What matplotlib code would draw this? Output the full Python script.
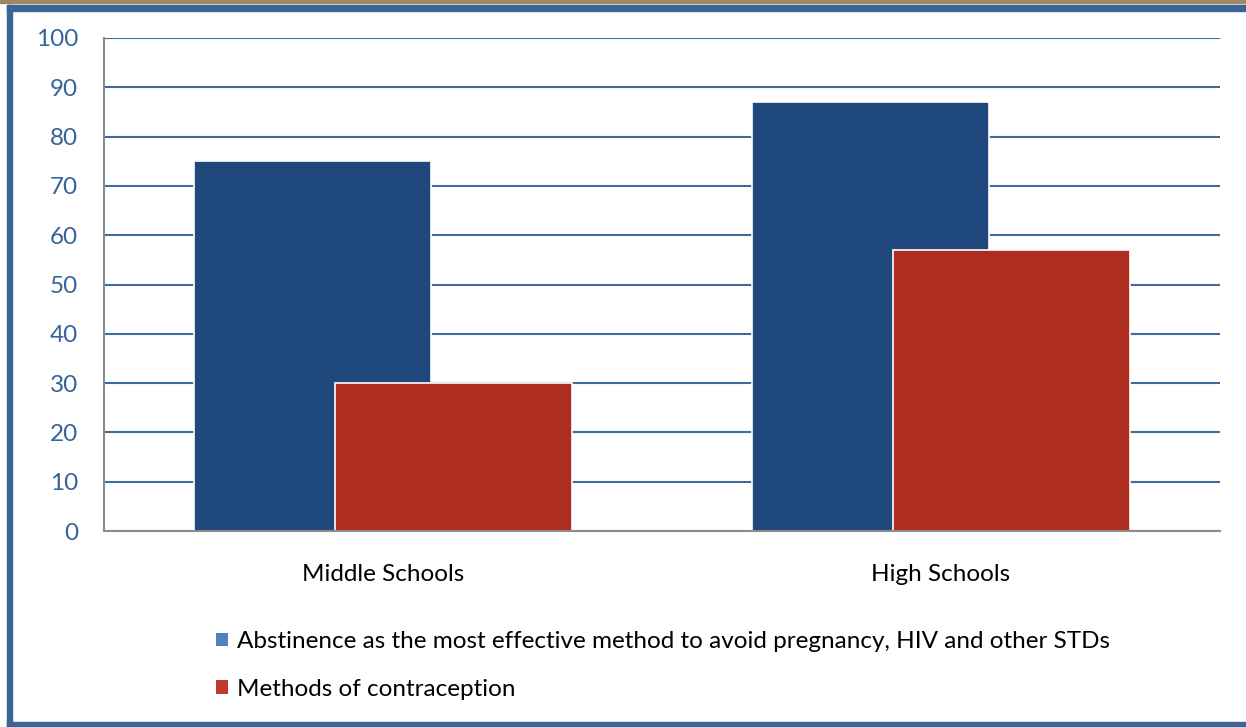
import matplotlib
matplotlib.use("Agg")
import matplotlib.pyplot as plt
from matplotlib.patches import Rectangle, Patch
import numpy as np

categories = ["Middle Schools", "High Schools"]
series_names = [
    "Abstinence as the most effective method to avoid pregnancy, HIV and other STDs",
    "Methods of contraception",
]
abstinence = [75, 87]
contraception = [30, 57]
y_ticks = [0, 10, 20, 30, 40, 50, 60, 70, 80, 90, 100]

bar_colors = ["#1f497d", "#ae2d21"]
legend_colors = ["#4f81bd", "#c0392b"]
grid_color = "#3f6a9c"
tick_color = "#35639a"

plt.rcParams["font.family"] = ["Lato", "DejaVu Sans"]
FS = 17.5

W, H = 1246, 727
fig = plt.figure(figsize=(W / 100, H / 100), dpi=100)

# outer frame: thin tan strip and the blue border
fig.patches.append(Rectangle((0, 1 - 3 / H), 1, 3 / H, transform=fig.transFigure,
                             color="#9b8a68", zorder=0))
fig.patches.append(Rectangle((7 / W, 1 - 11 / H), 1 - 7 / W, 6 / H, transform=fig.transFigure,
                             color="#3a6595", zorder=0))
fig.patches.append(Rectangle((7 / W, 0), 5 / W, 1 - 5 / H, transform=fig.transFigure,
                             color="#3a6595", zorder=0))
fig.patches.append(Rectangle((7 / W, 0), 1 - 7 / W, 5 / H, transform=fig.transFigure,
                             color="#3a6595", zorder=0))

ax = fig.add_axes([104 / W, 1 - 531 / H, 1116 / W, 493 / H])
x = np.arange(len(categories))
width = 0.425
offset = 0.127

ax.bar(x - offset, abstinence, width, color=bar_colors[0], edgecolor="white",
       linewidth=1.2, zorder=2)
ax.bar(x + offset, contraception, width, color=bar_colors[1], edgecolor="white",
       linewidth=1.2, zorder=3)

ax.set_xlim(-0.5, 1.5)
ax.set_ylim(0, 100)
ax.set_yticks(y_ticks)
ax.set_xticks(x)
ax.set_xticklabels(categories, fontsize=FS, color="black")
ax.tick_params(axis="y", length=0, pad=18.5, labelsize=FS, labelcolor=tick_color)
ax.tick_params(axis="x", length=0, pad=24)
ax.yaxis.grid(True, color=grid_color, linewidth=1.5, zorder=1)
ax.set_axisbelow(True)

for s in ["top", "right"]:
    ax.spines[s].set_visible(False)
for s in ["left", "bottom"]:
    ax.spines[s].set_color("#8c8c8c")
    ax.spines[s].set_linewidth(1.5)
    ax.spines[s].set_zorder(4)

handles = [Patch(facecolor=c, edgecolor="none") for c in legend_colors]
fig.legend(handles, series_names, loc="upper left",
           bbox_to_anchor=(204 / W, 1 - 619 / H), frameon=False,
           fontsize=FS, handlelength=0.5, handleheight=0.5, handletextpad=0.35,
           labelspacing=1.1, borderpad=0)

fig.savefig("out.png", dpi=100, facecolor="white")
